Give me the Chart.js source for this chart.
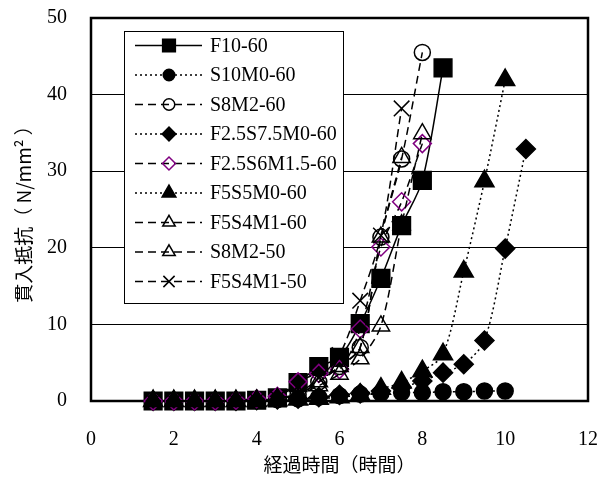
<!DOCTYPE html>
<html>
<head>
<meta charset="utf-8">
<script src="https://cdn.jsdelivr.net/npm/chart.js@4/dist/chart.umd.min.js"></script>
<style>
  html, body { margin: 0; padding: 0; background: #fff; }
</style>
</head>
<body>
<canvas id="chart" width="609" height="479"></canvas>
<script>
// elapsed time of each reading (hours)
const hours = [1.5, 2, 2.5, 3, 3.5, 4, 4.5, 5, 5.5, 6, 6.5, 7, 7.5, 8, 8.5, 9, 9.5, 10, 10.5];

const seriesNames = ['F10-60', 'S10M0-60', 'S8M2-60', 'F2.5S7.5M0-60', 'F2.5S6M1.5-60',
                     'F5S5M0-60', 'F5S4M1-60', 'S8M2-50', 'F5S4M1-50'];

// penetration resistance (N/mm2), one value per reading from 1.5 h on
const f10_60     = [0, 0, 0, 0, 0, 0.1, 0.4, 2.4, 4.5, 5.7, 10.1, 16.0, 22.9, 28.8, 43.5];
const s10m0_60   = [0, 0, 0, 0, 0, 0.1, 0.2, 0.3, 0.5, 0.7, 0.9, 1.0, 1.1, 1.1, 1.2, 1.2, 1.3, 1.3];
const s8m2_60    = [0, 0, 0, 0, 0, 0.1, 0.3, 0.8, 2.5, 4.5, 7.0, 21.4, 31.6, 45.5];
const f25s75m0_60 = [0, 0, 0, 0, 0, 0.1, 0.2, 0.3, 0.5, 0.8, 1.0, 1.3, 1.8, 2.6, 3.7, 4.8, 7.9, 19.9, 32.9];
const f25s6m15_60 = [0, 0, 0, 0, 0.1, 0.3, 0.6, 2.5, 3.6, 4.1, 9.4, 20.1, 26.0, 33.6];
const f5s5m0_60  = [0, 0, 0, 0, 0, 0, 0.1, 0.2, 0.3, 0.5, 0.8, 1.6, 2.4, 3.9, 6.1, 16.9, 28.7, 41.9];
const f5s4m1_60  = [0, 0, 0, 0, 0, 0.1, 0.3, 0.8, 2.0, 3.5, 5.5, 9.8, 23.0, 34.9];
const s8m2_50    = [0, 0, 0, 0, 0, 0.1, 0.3, 0.8, 2.5, 4.5, 7.0, 21.4, 31.8];
const f5s4m1_50  = [0, 0, 0, 0, 0, 0.1, 0.4, 1.0, 3.0, 6.0, 13.1, 21.6, 38.2];

const seriesValues = [f10_60, s10m0_60, s8m2_60, f25s75m0_60, f25s6m15_60,
                      f5s5m0_60, f5s4m1_60, s8m2_50, f5s4m1_50];

const xTicks = [0, 2, 4, 6, 8, 10, 12];
const yTicks = [0, 10, 20, 30, 40, 50];

// line / marker look per series
const SOLID = [], DOT = [2, 3], DASH = [8, 5];
const seriesStyles = [
    {dash: SOLID, point: 'rect',     radius: 12.5, fill: '#000',          stroke: '#000'},
    {dash: DOT,   point: 'circle',   radius: 8,    fill: '#000',          stroke: '#000'},
    {dash: DASH,  point: 'circle',   radius: 8,    fill: 'rgba(0,0,0,0)', stroke: '#000'},
    {dash: DOT,   point: 'rectRot',  radius: 9.5,  fill: '#000',          stroke: '#000'},
    {dash: DASH,  point: 'rectRot',  radius: 9,    fill: 'rgba(0,0,0,0)', stroke: '#800080'},
    {dash: DOT,   point: 'triangle', radius: 11,   fill: '#000',          stroke: '#000'},
    {dash: DASH,  point: 'triangle', radius: 10,   fill: 'rgba(0,0,0,0)', stroke: '#000'},
    {dash: DASH,  point: 'triangle', radius: 10,   fill: 'rgba(0,0,0,0)', stroke: '#000'},
    {dash: DASH,  point: 'crossRot', radius: 11,   fill: '#000',          stroke: '#000'}
];

const datasets = seriesNames.map(function (name, i) {
    const st = seriesStyles[i];
    return {
        label: name,
        data: seriesValues[i].map(function (v, k) { return {x: hours[k], y: v}; }),
        borderColor: '#000',
        borderWidth: 1.5,
        borderDash: st.dash,
        tension: 0.3,
        fill: false,
        clip: false,
        order: -i,
        pointStyle: st.point,
        pointRadius: st.radius,
        pointHoverRadius: st.radius,
        pointBackgroundColor: st.fill,
        pointBorderColor: st.stroke,
        pointBorderWidth: 1.5
    };
});

// heavy frame round the plot area
const plotFrame = {
    id: 'plotFrame',
    beforeDatasetsDraw(chart) {
        const {ctx, chartArea: a} = chart;
        ctx.save();
        ctx.strokeStyle = '#000';
        ctx.lineWidth = 2.5;
        ctx.strokeRect(a.left, a.top, a.right - a.left, a.bottom - a.top);
        ctx.restore();
    }
};

// boxed legend inside the plot, line sample with the marker on it
const boxLegend = {
    id: 'boxLegend',
    afterDraw(chart) {
        const ctx = chart.ctx;
        const left = 124, top = 31, right = 343, bottom = 303;
        const rowY = 45.5, rowH = 29.5;
        ctx.save();
        ctx.fillStyle = '#fff';
        ctx.fillRect(left, top, right - left, bottom - top);
        ctx.strokeStyle = '#000';
        ctx.lineWidth = 1;
        ctx.strokeRect(left + 0.5, top + 0.5, right - left, bottom - top);
        ctx.font = '20px "Liberation Serif", "Times New Roman", serif';
        ctx.textBaseline = 'middle';
        ctx.textAlign = 'left';
        chart.data.datasets.forEach(function (ds, i) {
            const y = rowY + i * rowH;
            const st = seriesStyles[i];
            ctx.setLineDash(ds.borderDash);
            ctx.lineWidth = 1.5;
            ctx.strokeStyle = '#000';
            ctx.beginPath();
            ctx.moveTo(135, y);
            ctx.lineTo(202, y);
            ctx.stroke();
            ctx.setLineDash([]);
            ctx.fillStyle = st.fill;
            ctx.strokeStyle = st.stroke;
            ctx.lineWidth = 1.5;
            const r = st.point === 'rect' ? 9 : st.radius * 0.72;
            Chart.helpers.drawPoint(ctx, {
                pointStyle: st.point, radius: r, rotation: 0, borderWidth: 1.5
            }, 169, y);
            ctx.fillStyle = '#000';
            ctx.fillText(ds.label, 210, y + 1);
        });
        ctx.restore();
    }
};

const tickFont = {family: '"Liberation Serif", "Times New Roman", serif', size: 20};
const titleFont = {family: '"Noto Sans CJK JP", sans-serif', size: 19};

new Chart(document.getElementById('chart').getContext('2d'), {
    type: 'line',
    data: {datasets: datasets},
    options: {
        responsive: false,
        animation: false,
        layout: {padding: {left: 0, right: 21, top: 18, bottom: 0}},
        plugins: {
            legend: {display: false},
            tooltip: {enabled: false}
        },
        scales: {
            x: {
                type: 'linear',
                min: 0,
                max: 12,
                afterBuildTicks: function (scale) {
                    scale.ticks = xTicks.map(function (v) { return {value: v}; });
                },
                afterFit: function (scale) {
                    scale.height = 78;
                    scale.paddingLeft = 0;
                    scale.paddingRight = 0;
                },
                grid: {display: false},
                border: {display: false},
                ticks: {font: tickFont, color: '#000', padding: 19, maxRotation: 0},
                title: {
                    display: true,
                    text: '経過時間（時間）',
                    font: titleFont,
                    color: '#000',
                    padding: {top: 0, bottom: 3}
                }
            },
            y: {
                type: 'linear',
                min: 0,
                max: 50,
                afterBuildTicks: function (scale) {
                    scale.ticks = yTicks.map(function (v) { return {value: v}; });
                },
                afterFit: function (scale) {
                    scale.width = 91;
                    scale.paddingTop = 0;
                    scale.paddingBottom = 0;
                },
                grid: {color: '#000', lineWidth: 1, drawTicks: false},
                border: {display: false},
                ticks: {font: tickFont, color: '#000', padding: 24},
                title: {
                    display: true,
                    text: '貫入抵抗（ N/mm² ）',
                    font: titleFont,
                    color: '#000',
                    padding: {top: 12, bottom: 0}
                }
            }
        }
    },
    plugins: [plotFrame, boxLegend]
});
</script>
</body>
</html>
